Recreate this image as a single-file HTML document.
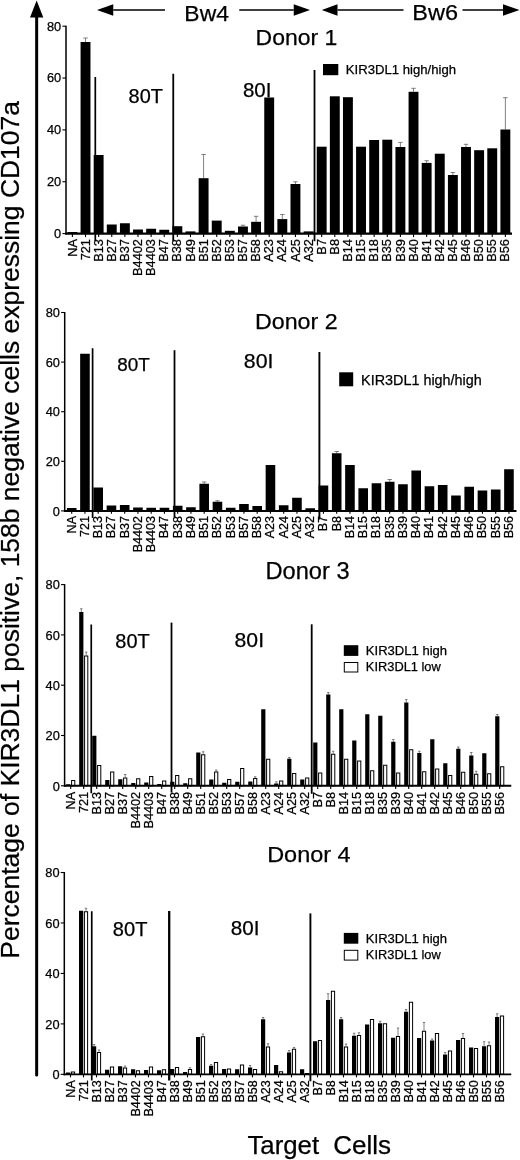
<!DOCTYPE html>
<html lang="en"><head><meta charset="utf-8"><title>KIR3DL1 CD107a expression by donor</title>
<style>html,body{margin:0;padding:0;background:#fff}body{width:520px;height:1160px;overflow:hidden}svg{display:block}text{fill:#000;stroke:#000;stroke-width:0.25px}</style>
</head><body>
<svg width="520" height="1160" viewBox="0 0 520 1160" font-family="'Liberation Sans', Arial, Helvetica, sans-serif">
<rect width="520" height="1160" fill="#fff"/>
<g id="yarrow">
<line x1="36.65" y1="15" x2="36.65" y2="1075" stroke="#000" stroke-width="3" stroke-linecap="round"/>
<polygon points="36.65,0.5 30,17.5 43.3,17.5" fill="#000"/>
</g>
<text transform="translate(19,956.5) rotate(-90)" x="-2.17" y="0" font-size="25.8" textLength="857.65" lengthAdjust="spacingAndGlyphs">Percentage of KIR3DL1 positive, 158b negative cells expressing CD107a</text>
<g id="toparrows">
<line x1="113.25" y1="10" x2="165" y2="10" stroke="#000" stroke-width="1.3"/>
<polygon points="97,10 113.25,4.25 113.25,15.75" fill="#000"/>
<line x1="293.75" y1="10" x2="239.25" y2="10" stroke="#000" stroke-width="1.3"/>
<polygon points="310,10 293.75,4.25 293.75,15.75" fill="#000"/>
<line x1="337.5" y1="10" x2="403.5" y2="10" stroke="#000" stroke-width="1.3"/>
<polygon points="321.75,10 337.5,4.25 337.5,15.75" fill="#000"/>
<line x1="503" y1="10" x2="462.5" y2="10" stroke="#000" stroke-width="1.3"/>
<polygon points="519.5,10 503,4.25 503,15.75" fill="#000"/>
</g>
<text x="184.37" y="20.5" font-size="22.33" textLength="44.55" lengthAdjust="spacingAndGlyphs" >Bw4</text>
<text x="412.32" y="19.8" font-size="22.9" textLength="45.69" lengthAdjust="spacingAndGlyphs" >Bw6</text>
<g id="xtitle">
<text x="247.43" y="1153.5" font-size="25.14" textLength="71.66" lengthAdjust="spacingAndGlyphs" >Target</text>
<text x="333.3" y="1153.5" font-size="25.37" textLength="57.83" lengthAdjust="spacingAndGlyphs" >Cells</text>
</g>
<g id="donor1">
<rect x="67.45" y="232" width="9.9" height="1.6" fill="#000"/>
<path d="M85.52 42V38M83.32 38H87.72" stroke="#555" stroke-width="0.75" fill="none"/>
<rect x="80.57" y="42" width="9.9" height="191.6" fill="#000"/>
<rect x="93.69" y="155" width="9.9" height="78.6" fill="#000"/>
<rect x="106.81" y="224.5" width="9.9" height="9.1" fill="#000"/>
<rect x="119.93" y="223.25" width="9.9" height="10.35" fill="#000"/>
<rect x="133.05" y="229.5" width="9.9" height="4.1" fill="#000"/>
<rect x="146.17" y="228.75" width="9.9" height="4.85" fill="#000"/>
<rect x="159.29" y="229.75" width="9.9" height="3.85" fill="#000"/>
<rect x="172.41" y="226.2" width="9.9" height="7.4" fill="#000"/>
<rect x="185.53" y="231.4" width="9.9" height="2.2" fill="#000"/>
<path d="M203.6 178.2V154.5M201.4 154.5H205.8" stroke="#555" stroke-width="0.75" fill="none"/>
<rect x="198.65" y="178.2" width="9.9" height="55.4" fill="#000"/>
<rect x="211.77" y="220.6" width="9.9" height="13" fill="#000"/>
<rect x="224.89" y="230.8" width="9.9" height="2.8" fill="#000"/>
<path d="M242.96 226.5V225.2M240.76 225.2H245.16" stroke="#555" stroke-width="0.75" fill="none"/>
<rect x="238.01" y="226.5" width="9.9" height="7.1" fill="#000"/>
<path d="M256.08 221.8V216.3M253.88 216.3H258.28" stroke="#555" stroke-width="0.75" fill="none"/>
<rect x="251.13" y="221.8" width="9.9" height="11.8" fill="#000"/>
<rect x="264.25" y="97.5" width="9.9" height="136.1" fill="#000"/>
<path d="M282.32 219.1V214.5M280.12 214.5H284.52" stroke="#555" stroke-width="0.75" fill="none"/>
<rect x="277.37" y="219.1" width="9.9" height="14.5" fill="#000"/>
<path d="M295.44 184V181.8M293.24 181.8H297.64" stroke="#555" stroke-width="0.75" fill="none"/>
<rect x="290.49" y="184" width="9.9" height="49.6" fill="#000"/>
<rect x="303.61" y="231.4" width="9.9" height="2.2" fill="#000"/>
<rect x="316.73" y="146.7" width="9.9" height="86.9" fill="#000"/>
<rect x="329.85" y="96.3" width="9.9" height="137.3" fill="#000"/>
<rect x="342.97" y="97.2" width="9.9" height="136.4" fill="#000"/>
<rect x="356.09" y="146.7" width="9.9" height="86.9" fill="#000"/>
<rect x="369.21" y="140" width="9.9" height="93.6" fill="#000"/>
<rect x="382.33" y="139.7" width="9.9" height="93.9" fill="#000"/>
<path d="M400.4 147V142.4M398.2 142.4H402.6" stroke="#555" stroke-width="0.75" fill="none"/>
<rect x="395.45" y="147" width="9.9" height="86.6" fill="#000"/>
<path d="M413.52 91.8V88.3M411.32 88.3H415.72" stroke="#555" stroke-width="0.75" fill="none"/>
<rect x="408.57" y="91.8" width="9.9" height="141.8" fill="#000"/>
<path d="M426.64 162.9V160.7M424.44 160.7H428.84" stroke="#555" stroke-width="0.75" fill="none"/>
<rect x="421.69" y="162.9" width="9.9" height="70.7" fill="#000"/>
<rect x="434.81" y="153.7" width="9.9" height="79.9" fill="#000"/>
<path d="M452.88 175V172.5M450.68 172.5H455.08" stroke="#555" stroke-width="0.75" fill="none"/>
<rect x="447.93" y="175" width="9.9" height="58.6" fill="#000"/>
<path d="M466 147V144.3M463.8 144.3H468.2" stroke="#555" stroke-width="0.75" fill="none"/>
<rect x="461.05" y="147" width="9.9" height="86.6" fill="#000"/>
<rect x="474.17" y="150.2" width="9.9" height="83.4" fill="#000"/>
<rect x="487.29" y="148.3" width="9.9" height="85.3" fill="#000"/>
<path d="M505.36 129.5V97.7M503.16 97.7H507.56" stroke="#555" stroke-width="0.75" fill="none"/>
<rect x="500.41" y="129.5" width="9.9" height="104.1" fill="#000"/>
<line x1="66" y1="25.7" x2="66" y2="234.6" stroke="#000" stroke-width="1.5"/>
<line x1="65.3" y1="233.6" x2="512" y2="233.6" stroke="#000" stroke-width="2.3"/>
<line x1="62.4" y1="233.6" x2="66" y2="233.6" stroke="#000" stroke-width="1.1"/>
<text x="61.2" y="238" font-size="12.8" text-anchor="end">0</text>
<line x1="62.4" y1="181.75" x2="66" y2="181.75" stroke="#000" stroke-width="1.1"/>
<text x="61.2" y="186.15" font-size="12.8" text-anchor="end">20</text>
<line x1="62.4" y1="129.9" x2="66" y2="129.9" stroke="#000" stroke-width="1.1"/>
<text x="61.2" y="134.3" font-size="12.8" text-anchor="end">40</text>
<line x1="62.4" y1="78.05" x2="66" y2="78.05" stroke="#000" stroke-width="1.1"/>
<text x="61.2" y="82.45" font-size="12.8" text-anchor="end">60</text>
<line x1="62.4" y1="26.2" x2="66" y2="26.2" stroke="#000" stroke-width="1.1"/>
<text x="61.2" y="30.6" font-size="12.8" text-anchor="end">80</text>
<line x1="72.4" y1="233.6" x2="72.4" y2="237.1" stroke="#000" stroke-width="1.1"/>
<text transform="translate(76.5,239) rotate(-90)" font-size="12.8" text-anchor="end">NA</text>
<line x1="85.52" y1="233.6" x2="85.52" y2="237.1" stroke="#000" stroke-width="1.1"/>
<text transform="translate(89.62,239) rotate(-90)" font-size="12.8" text-anchor="end">721</text>
<line x1="98.64" y1="233.6" x2="98.64" y2="237.1" stroke="#000" stroke-width="1.1"/>
<text transform="translate(102.74,239) rotate(-90)" font-size="12.8" text-anchor="end">B13</text>
<line x1="111.76" y1="233.6" x2="111.76" y2="237.1" stroke="#000" stroke-width="1.1"/>
<text transform="translate(115.86,239) rotate(-90)" font-size="12.8" text-anchor="end">B27</text>
<line x1="124.88" y1="233.6" x2="124.88" y2="237.1" stroke="#000" stroke-width="1.1"/>
<text transform="translate(128.98,239) rotate(-90)" font-size="12.8" text-anchor="end">B37</text>
<line x1="138" y1="233.6" x2="138" y2="237.1" stroke="#000" stroke-width="1.1"/>
<text transform="translate(142.1,239) rotate(-90)" font-size="12.8" text-anchor="end">B4402</text>
<line x1="151.12" y1="233.6" x2="151.12" y2="237.1" stroke="#000" stroke-width="1.1"/>
<text transform="translate(155.22,239) rotate(-90)" font-size="12.8" text-anchor="end">B4403</text>
<line x1="164.24" y1="233.6" x2="164.24" y2="237.1" stroke="#000" stroke-width="1.1"/>
<text transform="translate(168.34,239) rotate(-90)" font-size="12.8" text-anchor="end">B47</text>
<line x1="177.36" y1="233.6" x2="177.36" y2="237.1" stroke="#000" stroke-width="1.1"/>
<text transform="translate(181.46,239) rotate(-90)" font-size="12.8" text-anchor="end">B38</text>
<line x1="190.48" y1="233.6" x2="190.48" y2="237.1" stroke="#000" stroke-width="1.1"/>
<text transform="translate(194.58,239) rotate(-90)" font-size="12.8" text-anchor="end">B49</text>
<line x1="203.6" y1="233.6" x2="203.6" y2="237.1" stroke="#000" stroke-width="1.1"/>
<text transform="translate(207.7,239) rotate(-90)" font-size="12.8" text-anchor="end">B51</text>
<line x1="216.72" y1="233.6" x2="216.72" y2="237.1" stroke="#000" stroke-width="1.1"/>
<text transform="translate(220.82,239) rotate(-90)" font-size="12.8" text-anchor="end">B52</text>
<line x1="229.84" y1="233.6" x2="229.84" y2="237.1" stroke="#000" stroke-width="1.1"/>
<text transform="translate(233.94,239) rotate(-90)" font-size="12.8" text-anchor="end">B53</text>
<line x1="242.96" y1="233.6" x2="242.96" y2="237.1" stroke="#000" stroke-width="1.1"/>
<text transform="translate(247.06,239) rotate(-90)" font-size="12.8" text-anchor="end">B57</text>
<line x1="256.08" y1="233.6" x2="256.08" y2="237.1" stroke="#000" stroke-width="1.1"/>
<text transform="translate(260.18,239) rotate(-90)" font-size="12.8" text-anchor="end">B58</text>
<line x1="269.2" y1="233.6" x2="269.2" y2="237.1" stroke="#000" stroke-width="1.1"/>
<text transform="translate(273.3,239) rotate(-90)" font-size="12.8" text-anchor="end">A23</text>
<line x1="282.32" y1="233.6" x2="282.32" y2="237.1" stroke="#000" stroke-width="1.1"/>
<text transform="translate(286.42,239) rotate(-90)" font-size="12.8" text-anchor="end">A24</text>
<line x1="295.44" y1="233.6" x2="295.44" y2="237.1" stroke="#000" stroke-width="1.1"/>
<text transform="translate(299.54,239) rotate(-90)" font-size="12.8" text-anchor="end">A25</text>
<line x1="308.56" y1="233.6" x2="308.56" y2="237.1" stroke="#000" stroke-width="1.1"/>
<text transform="translate(312.66,239) rotate(-90)" font-size="12.8" text-anchor="end">A32</text>
<line x1="321.68" y1="233.6" x2="321.68" y2="237.1" stroke="#000" stroke-width="1.1"/>
<text transform="translate(325.78,239) rotate(-90)" font-size="12.8" text-anchor="end">B7</text>
<line x1="334.8" y1="233.6" x2="334.8" y2="237.1" stroke="#000" stroke-width="1.1"/>
<text transform="translate(338.9,239) rotate(-90)" font-size="12.8" text-anchor="end">B8</text>
<line x1="347.92" y1="233.6" x2="347.92" y2="237.1" stroke="#000" stroke-width="1.1"/>
<text transform="translate(352.02,239) rotate(-90)" font-size="12.8" text-anchor="end">B14</text>
<line x1="361.04" y1="233.6" x2="361.04" y2="237.1" stroke="#000" stroke-width="1.1"/>
<text transform="translate(365.14,239) rotate(-90)" font-size="12.8" text-anchor="end">B15</text>
<line x1="374.16" y1="233.6" x2="374.16" y2="237.1" stroke="#000" stroke-width="1.1"/>
<text transform="translate(378.26,239) rotate(-90)" font-size="12.8" text-anchor="end">B18</text>
<line x1="387.28" y1="233.6" x2="387.28" y2="237.1" stroke="#000" stroke-width="1.1"/>
<text transform="translate(391.38,239) rotate(-90)" font-size="12.8" text-anchor="end">B35</text>
<line x1="400.4" y1="233.6" x2="400.4" y2="237.1" stroke="#000" stroke-width="1.1"/>
<text transform="translate(404.5,239) rotate(-90)" font-size="12.8" text-anchor="end">B39</text>
<line x1="413.52" y1="233.6" x2="413.52" y2="237.1" stroke="#000" stroke-width="1.1"/>
<text transform="translate(417.62,239) rotate(-90)" font-size="12.8" text-anchor="end">B40</text>
<line x1="426.64" y1="233.6" x2="426.64" y2="237.1" stroke="#000" stroke-width="1.1"/>
<text transform="translate(430.74,239) rotate(-90)" font-size="12.8" text-anchor="end">B41</text>
<line x1="439.76" y1="233.6" x2="439.76" y2="237.1" stroke="#000" stroke-width="1.1"/>
<text transform="translate(443.86,239) rotate(-90)" font-size="12.8" text-anchor="end">B42</text>
<line x1="452.88" y1="233.6" x2="452.88" y2="237.1" stroke="#000" stroke-width="1.1"/>
<text transform="translate(456.98,239) rotate(-90)" font-size="12.8" text-anchor="end">B45</text>
<line x1="466" y1="233.6" x2="466" y2="237.1" stroke="#000" stroke-width="1.1"/>
<text transform="translate(470.1,239) rotate(-90)" font-size="12.8" text-anchor="end">B46</text>
<line x1="479.12" y1="233.6" x2="479.12" y2="237.1" stroke="#000" stroke-width="1.1"/>
<text transform="translate(483.22,239) rotate(-90)" font-size="12.8" text-anchor="end">B50</text>
<line x1="492.24" y1="233.6" x2="492.24" y2="237.1" stroke="#000" stroke-width="1.1"/>
<text transform="translate(496.34,239) rotate(-90)" font-size="12.8" text-anchor="end">B55</text>
<line x1="505.36" y1="233.6" x2="505.36" y2="237.1" stroke="#000" stroke-width="1.1"/>
<text transform="translate(509.46,239) rotate(-90)" font-size="12.8" text-anchor="end">B56</text>
<line x1="95.3" y1="77" x2="95.3" y2="241" stroke="#000" stroke-width="1.7"/>
<line x1="173.25" y1="73.75" x2="173.25" y2="241" stroke="#000" stroke-width="1.8"/>
<line x1="314.5" y1="70" x2="314.5" y2="241.2" stroke="#000" stroke-width="1.8"/>
<text x="255.62" y="44.5" font-size="22.4" textLength="81.75" lengthAdjust="spacingAndGlyphs" >Donor 1</text>
<text x="128.64" y="102.5" font-size="19.42" textLength="34.32" lengthAdjust="spacingAndGlyphs" >80T</text>
<text x="242.92" y="97.4" font-size="19.97" textLength="28.47" lengthAdjust="spacingAndGlyphs" >80I</text>
<text x="345.82" y="74" font-size="12.8" textLength="110.22" lengthAdjust="spacingAndGlyphs" >KIR3DL1 high/high</text>
<rect x="323" y="64" width="15.3" height="11.2" fill="#000"/>
</g>
<g id="donor2">
<rect x="66.9" y="508" width="9.6" height="2.9" fill="#000"/>
<rect x="80.15" y="353.75" width="9.6" height="157.15" fill="#000"/>
<rect x="93.4" y="487.5" width="9.6" height="23.4" fill="#000"/>
<rect x="106.65" y="505.5" width="9.6" height="5.4" fill="#000"/>
<rect x="119.9" y="505" width="9.6" height="5.9" fill="#000"/>
<rect x="133.15" y="507.5" width="9.6" height="3.4" fill="#000"/>
<rect x="146.4" y="507.75" width="9.6" height="3.15" fill="#000"/>
<rect x="159.65" y="507.75" width="9.6" height="3.15" fill="#000"/>
<rect x="172.9" y="505.75" width="9.6" height="5.15" fill="#000"/>
<rect x="186.15" y="507.25" width="9.6" height="3.65" fill="#000"/>
<path d="M204.2 483.75V482M202 482H206.4" stroke="#555" stroke-width="0.75" fill="none"/>
<rect x="199.4" y="483.75" width="9.6" height="27.15" fill="#000"/>
<path d="M217.45 501.75V500.75M215.25 500.75H219.65" stroke="#555" stroke-width="0.75" fill="none"/>
<rect x="212.65" y="501.75" width="9.6" height="9.15" fill="#000"/>
<rect x="225.9" y="507.75" width="9.6" height="3.15" fill="#000"/>
<rect x="239.15" y="504" width="9.6" height="6.9" fill="#000"/>
<rect x="252.4" y="506" width="9.6" height="4.9" fill="#000"/>
<rect x="265.65" y="465" width="9.6" height="45.9" fill="#000"/>
<rect x="278.9" y="505.25" width="9.6" height="5.65" fill="#000"/>
<rect x="292.15" y="497.75" width="9.6" height="13.15" fill="#000"/>
<rect x="305.4" y="508.25" width="9.6" height="2.65" fill="#000"/>
<rect x="318.65" y="485.5" width="9.6" height="25.4" fill="#000"/>
<path d="M336.7 453.25V451.5M334.5 451.5H338.9" stroke="#555" stroke-width="0.75" fill="none"/>
<rect x="331.9" y="453.25" width="9.6" height="57.65" fill="#000"/>
<rect x="345.15" y="465" width="9.6" height="45.9" fill="#000"/>
<rect x="358.4" y="488.25" width="9.6" height="22.65" fill="#000"/>
<rect x="371.65" y="483.25" width="9.6" height="27.65" fill="#000"/>
<path d="M389.7 481.75V479.5M387.5 479.5H391.9" stroke="#555" stroke-width="0.75" fill="none"/>
<rect x="384.9" y="481.75" width="9.6" height="29.15" fill="#000"/>
<rect x="398.15" y="484.25" width="9.6" height="26.65" fill="#000"/>
<rect x="411.4" y="470.5" width="9.6" height="40.4" fill="#000"/>
<rect x="424.65" y="486.25" width="9.6" height="24.65" fill="#000"/>
<rect x="437.9" y="485" width="9.6" height="25.9" fill="#000"/>
<rect x="451.15" y="495.5" width="9.6" height="15.4" fill="#000"/>
<rect x="464.4" y="486.75" width="9.6" height="24.15" fill="#000"/>
<rect x="477.65" y="490.5" width="9.6" height="20.4" fill="#000"/>
<rect x="490.9" y="489.5" width="9.6" height="21.4" fill="#000"/>
<rect x="504.15" y="469.25" width="9.6" height="41.65" fill="#000"/>
<line x1="64.7" y1="312" x2="64.7" y2="511.9" stroke="#000" stroke-width="1.5"/>
<line x1="64" y1="510.9" x2="516.5" y2="510.9" stroke="#000" stroke-width="2.0"/>
<line x1="61.1" y1="510.9" x2="64.7" y2="510.9" stroke="#000" stroke-width="1.1"/>
<text x="59.9" y="515.6" font-size="12.8" text-anchor="end">0</text>
<line x1="61.1" y1="461.3" x2="64.7" y2="461.3" stroke="#000" stroke-width="1.1"/>
<text x="59.9" y="466" font-size="12.8" text-anchor="end">20</text>
<line x1="61.1" y1="411.7" x2="64.7" y2="411.7" stroke="#000" stroke-width="1.1"/>
<text x="59.9" y="416.4" font-size="12.8" text-anchor="end">40</text>
<line x1="61.1" y1="362.1" x2="64.7" y2="362.1" stroke="#000" stroke-width="1.1"/>
<text x="59.9" y="366.8" font-size="12.8" text-anchor="end">60</text>
<line x1="61.1" y1="312.5" x2="64.7" y2="312.5" stroke="#000" stroke-width="1.1"/>
<text x="59.9" y="317.2" font-size="12.8" text-anchor="end">80</text>
<line x1="71.7" y1="510.9" x2="71.7" y2="513.7" stroke="#000" stroke-width="1.1"/>
<text transform="translate(75.73,515.9) rotate(-90)" font-size="12.6" text-anchor="end">NA</text>
<line x1="84.95" y1="510.9" x2="84.95" y2="513.7" stroke="#000" stroke-width="1.1"/>
<text transform="translate(88.98,515.9) rotate(-90)" font-size="12.6" text-anchor="end">721</text>
<line x1="98.2" y1="510.9" x2="98.2" y2="513.7" stroke="#000" stroke-width="1.1"/>
<text transform="translate(102.23,515.9) rotate(-90)" font-size="12.6" text-anchor="end">B13</text>
<line x1="111.45" y1="510.9" x2="111.45" y2="513.7" stroke="#000" stroke-width="1.1"/>
<text transform="translate(115.48,515.9) rotate(-90)" font-size="12.6" text-anchor="end">B27</text>
<line x1="124.7" y1="510.9" x2="124.7" y2="513.7" stroke="#000" stroke-width="1.1"/>
<text transform="translate(128.73,515.9) rotate(-90)" font-size="12.6" text-anchor="end">B37</text>
<line x1="137.95" y1="510.9" x2="137.95" y2="513.7" stroke="#000" stroke-width="1.1"/>
<text transform="translate(141.98,515.9) rotate(-90)" font-size="12.6" text-anchor="end">B4402</text>
<line x1="151.2" y1="510.9" x2="151.2" y2="513.7" stroke="#000" stroke-width="1.1"/>
<text transform="translate(155.23,515.9) rotate(-90)" font-size="12.6" text-anchor="end">B4403</text>
<line x1="164.45" y1="510.9" x2="164.45" y2="513.7" stroke="#000" stroke-width="1.1"/>
<text transform="translate(168.48,515.9) rotate(-90)" font-size="12.6" text-anchor="end">B47</text>
<line x1="177.7" y1="510.9" x2="177.7" y2="513.7" stroke="#000" stroke-width="1.1"/>
<text transform="translate(181.73,515.9) rotate(-90)" font-size="12.6" text-anchor="end">B38</text>
<line x1="190.95" y1="510.9" x2="190.95" y2="513.7" stroke="#000" stroke-width="1.1"/>
<text transform="translate(194.98,515.9) rotate(-90)" font-size="12.6" text-anchor="end">B49</text>
<line x1="204.2" y1="510.9" x2="204.2" y2="513.7" stroke="#000" stroke-width="1.1"/>
<text transform="translate(208.23,515.9) rotate(-90)" font-size="12.6" text-anchor="end">B51</text>
<line x1="217.45" y1="510.9" x2="217.45" y2="513.7" stroke="#000" stroke-width="1.1"/>
<text transform="translate(221.48,515.9) rotate(-90)" font-size="12.6" text-anchor="end">B52</text>
<line x1="230.7" y1="510.9" x2="230.7" y2="513.7" stroke="#000" stroke-width="1.1"/>
<text transform="translate(234.73,515.9) rotate(-90)" font-size="12.6" text-anchor="end">B53</text>
<line x1="243.95" y1="510.9" x2="243.95" y2="513.7" stroke="#000" stroke-width="1.1"/>
<text transform="translate(247.98,515.9) rotate(-90)" font-size="12.6" text-anchor="end">B57</text>
<line x1="257.2" y1="510.9" x2="257.2" y2="513.7" stroke="#000" stroke-width="1.1"/>
<text transform="translate(261.23,515.9) rotate(-90)" font-size="12.6" text-anchor="end">B58</text>
<line x1="270.45" y1="510.9" x2="270.45" y2="513.7" stroke="#000" stroke-width="1.1"/>
<text transform="translate(274.48,515.9) rotate(-90)" font-size="12.6" text-anchor="end">A23</text>
<line x1="283.7" y1="510.9" x2="283.7" y2="513.7" stroke="#000" stroke-width="1.1"/>
<text transform="translate(287.73,515.9) rotate(-90)" font-size="12.6" text-anchor="end">A24</text>
<line x1="296.95" y1="510.9" x2="296.95" y2="513.7" stroke="#000" stroke-width="1.1"/>
<text transform="translate(300.98,515.9) rotate(-90)" font-size="12.6" text-anchor="end">A25</text>
<line x1="310.2" y1="510.9" x2="310.2" y2="513.7" stroke="#000" stroke-width="1.1"/>
<text transform="translate(314.23,515.9) rotate(-90)" font-size="12.6" text-anchor="end">A32</text>
<line x1="323.45" y1="510.9" x2="323.45" y2="513.7" stroke="#000" stroke-width="1.1"/>
<text transform="translate(327.48,515.9) rotate(-90)" font-size="12.6" text-anchor="end">B7</text>
<line x1="336.7" y1="510.9" x2="336.7" y2="513.7" stroke="#000" stroke-width="1.1"/>
<text transform="translate(340.73,515.9) rotate(-90)" font-size="12.6" text-anchor="end">B8</text>
<line x1="349.95" y1="510.9" x2="349.95" y2="513.7" stroke="#000" stroke-width="1.1"/>
<text transform="translate(353.98,515.9) rotate(-90)" font-size="12.6" text-anchor="end">B14</text>
<line x1="363.2" y1="510.9" x2="363.2" y2="513.7" stroke="#000" stroke-width="1.1"/>
<text transform="translate(367.23,515.9) rotate(-90)" font-size="12.6" text-anchor="end">B15</text>
<line x1="376.45" y1="510.9" x2="376.45" y2="513.7" stroke="#000" stroke-width="1.1"/>
<text transform="translate(380.48,515.9) rotate(-90)" font-size="12.6" text-anchor="end">B18</text>
<line x1="389.7" y1="510.9" x2="389.7" y2="513.7" stroke="#000" stroke-width="1.1"/>
<text transform="translate(393.73,515.9) rotate(-90)" font-size="12.6" text-anchor="end">B35</text>
<line x1="402.95" y1="510.9" x2="402.95" y2="513.7" stroke="#000" stroke-width="1.1"/>
<text transform="translate(406.98,515.9) rotate(-90)" font-size="12.6" text-anchor="end">B39</text>
<line x1="416.2" y1="510.9" x2="416.2" y2="513.7" stroke="#000" stroke-width="1.1"/>
<text transform="translate(420.23,515.9) rotate(-90)" font-size="12.6" text-anchor="end">B40</text>
<line x1="429.45" y1="510.9" x2="429.45" y2="513.7" stroke="#000" stroke-width="1.1"/>
<text transform="translate(433.48,515.9) rotate(-90)" font-size="12.6" text-anchor="end">B41</text>
<line x1="442.7" y1="510.9" x2="442.7" y2="513.7" stroke="#000" stroke-width="1.1"/>
<text transform="translate(446.73,515.9) rotate(-90)" font-size="12.6" text-anchor="end">B42</text>
<line x1="455.95" y1="510.9" x2="455.95" y2="513.7" stroke="#000" stroke-width="1.1"/>
<text transform="translate(459.98,515.9) rotate(-90)" font-size="12.6" text-anchor="end">B45</text>
<line x1="469.2" y1="510.9" x2="469.2" y2="513.7" stroke="#000" stroke-width="1.1"/>
<text transform="translate(473.23,515.9) rotate(-90)" font-size="12.6" text-anchor="end">B46</text>
<line x1="482.45" y1="510.9" x2="482.45" y2="513.7" stroke="#000" stroke-width="1.1"/>
<text transform="translate(486.48,515.9) rotate(-90)" font-size="12.6" text-anchor="end">B50</text>
<line x1="495.7" y1="510.9" x2="495.7" y2="513.7" stroke="#000" stroke-width="1.1"/>
<text transform="translate(499.73,515.9) rotate(-90)" font-size="12.6" text-anchor="end">B55</text>
<line x1="508.95" y1="510.9" x2="508.95" y2="513.7" stroke="#000" stroke-width="1.1"/>
<text transform="translate(512.98,515.9) rotate(-90)" font-size="12.6" text-anchor="end">B56</text>
<line x1="92.6" y1="348.25" x2="92.6" y2="518" stroke="#000" stroke-width="1.7"/>
<line x1="174.5" y1="350.2" x2="174.5" y2="517.5" stroke="#000" stroke-width="1.8"/>
<line x1="319.4" y1="352" x2="319.4" y2="519.5" stroke="#000" stroke-width="1.9000000000000001"/>
<text x="254.99" y="329.4" font-size="22.66" textLength="82.68" lengthAdjust="spacingAndGlyphs" >Donor 2</text>
<text x="117.19" y="370.75" font-size="18.39" textLength="32.5" lengthAdjust="spacingAndGlyphs" >80T</text>
<text x="243.89" y="367.5" font-size="20.74" textLength="29.58" lengthAdjust="spacingAndGlyphs" >80I</text>
<text x="361.12" y="384.8" font-size="14.01" textLength="120.61" lengthAdjust="spacingAndGlyphs" >KIR3DL1 high/high</text>
<rect x="339.2" y="372.3" width="14" height="14" fill="#000"/>
</g>
<g id="donor3">
<rect x="66.2" y="784.25" width="4.2" height="1.55" fill="#000"/>
<rect x="71.6" y="780.5" width="3.2" height="5.3" fill="#fff" stroke="#000" stroke-width="1"/>
<path d="M81.3 612V608.75M80.1 608.75H82.5" stroke="#555" stroke-width="0.75" fill="none"/>
<path d="M86.2 655.5V652M85 652H87.4" stroke="#555" stroke-width="0.75" fill="none"/>
<rect x="79.2" y="612" width="4.2" height="173.8" fill="#000"/>
<rect x="84.6" y="656" width="3.2" height="129.8" fill="#fff" stroke="#000" stroke-width="1"/>
<rect x="92.2" y="735.75" width="4.2" height="50.05" fill="#000"/>
<rect x="97.6" y="765.5" width="3.2" height="20.3" fill="#fff" stroke="#000" stroke-width="1"/>
<rect x="105.2" y="780" width="4.2" height="5.8" fill="#000"/>
<rect x="110.6" y="772" width="3.2" height="13.8" fill="#fff" stroke="#000" stroke-width="1"/>
<path d="M125.2 777.5V774.5M124 774.5H126.4" stroke="#555" stroke-width="0.75" fill="none"/>
<rect x="118.2" y="779.25" width="4.2" height="6.55" fill="#000"/>
<rect x="123.6" y="778" width="3.2" height="7.8" fill="#fff" stroke="#000" stroke-width="1"/>
<rect x="131.2" y="783" width="4.2" height="2.8" fill="#000"/>
<rect x="136.6" y="778.75" width="3.2" height="7.05" fill="#fff" stroke="#000" stroke-width="1"/>
<rect x="144.2" y="782.5" width="4.2" height="3.3" fill="#000"/>
<rect x="149.6" y="776.5" width="3.2" height="9.3" fill="#fff" stroke="#000" stroke-width="1"/>
<rect x="157.2" y="784" width="4.2" height="1.8" fill="#000"/>
<rect x="162.6" y="781" width="3.2" height="4.8" fill="#fff" stroke="#000" stroke-width="1"/>
<rect x="170.2" y="781.75" width="4.2" height="4.05" fill="#000"/>
<rect x="175.6" y="775.5" width="3.2" height="10.3" fill="#fff" stroke="#000" stroke-width="1"/>
<rect x="183.2" y="783.25" width="4.2" height="2.55" fill="#000"/>
<rect x="188.6" y="778.75" width="3.2" height="7.05" fill="#fff" stroke="#000" stroke-width="1"/>
<path d="M203.2 754.25V751.75M202 751.75H204.4" stroke="#555" stroke-width="0.75" fill="none"/>
<rect x="196.2" y="752.5" width="4.2" height="33.3" fill="#000"/>
<rect x="201.6" y="754.75" width="3.2" height="31.05" fill="#fff" stroke="#000" stroke-width="1"/>
<path d="M216.2 771.5V770M215 770H217.4" stroke="#555" stroke-width="0.75" fill="none"/>
<rect x="209.2" y="779.5" width="4.2" height="6.3" fill="#000"/>
<rect x="214.6" y="772" width="3.2" height="13.8" fill="#fff" stroke="#000" stroke-width="1"/>
<rect x="222.2" y="782.75" width="4.2" height="3.05" fill="#000"/>
<rect x="227.6" y="779.5" width="3.2" height="6.3" fill="#fff" stroke="#000" stroke-width="1"/>
<rect x="235.2" y="781.75" width="4.2" height="4.05" fill="#000"/>
<rect x="240.6" y="768.5" width="3.2" height="17.3" fill="#fff" stroke="#000" stroke-width="1"/>
<path d="M255.2 778V776.75M254 776.75H256.4" stroke="#555" stroke-width="0.75" fill="none"/>
<rect x="248.2" y="781.5" width="4.2" height="4.3" fill="#000"/>
<rect x="253.6" y="778.5" width="3.2" height="7.3" fill="#fff" stroke="#000" stroke-width="1"/>
<rect x="261.2" y="709.25" width="4.2" height="76.55" fill="#000"/>
<rect x="266.6" y="759.25" width="3.2" height="26.55" fill="#fff" stroke="#000" stroke-width="1"/>
<path d="M276.3 783.5V781.75M275.1 781.75H277.5" stroke="#555" stroke-width="0.75" fill="none"/>
<rect x="274.2" y="783.5" width="4.2" height="2.3" fill="#000"/>
<rect x="279.6" y="781" width="3.2" height="4.8" fill="#fff" stroke="#000" stroke-width="1"/>
<path d="M289.3 758.75V757.5M288.1 757.5H290.5" stroke="#555" stroke-width="0.75" fill="none"/>
<rect x="287.2" y="758.75" width="4.2" height="27.05" fill="#000"/>
<rect x="292.6" y="773.5" width="3.2" height="12.3" fill="#fff" stroke="#000" stroke-width="1"/>
<rect x="300.2" y="779.5" width="4.2" height="6.3" fill="#000"/>
<rect x="305.6" y="778" width="3.2" height="7.8" fill="#fff" stroke="#000" stroke-width="1"/>
<rect x="313.2" y="742.5" width="4.2" height="43.3" fill="#000"/>
<rect x="318.6" y="773" width="3.2" height="12.8" fill="#fff" stroke="#000" stroke-width="1"/>
<path d="M328.3 694.5V692.5M327.1 692.5H329.5" stroke="#555" stroke-width="0.75" fill="none"/>
<path d="M333.2 753.75V751.25M332 751.25H334.4" stroke="#555" stroke-width="0.75" fill="none"/>
<rect x="326.2" y="694.5" width="4.2" height="91.3" fill="#000"/>
<rect x="331.6" y="754.25" width="3.2" height="31.55" fill="#fff" stroke="#000" stroke-width="1"/>
<rect x="339.2" y="709.25" width="4.2" height="76.55" fill="#000"/>
<rect x="344.6" y="759.25" width="3.2" height="26.55" fill="#fff" stroke="#000" stroke-width="1"/>
<rect x="352.2" y="740.5" width="4.2" height="45.3" fill="#000"/>
<rect x="357.6" y="761" width="3.2" height="24.8" fill="#fff" stroke="#000" stroke-width="1"/>
<rect x="365.2" y="714.25" width="4.2" height="71.55" fill="#000"/>
<rect x="370.6" y="770.75" width="3.2" height="15.05" fill="#fff" stroke="#000" stroke-width="1"/>
<rect x="378.2" y="715.75" width="4.2" height="70.05" fill="#000"/>
<rect x="383.6" y="765.25" width="3.2" height="20.55" fill="#fff" stroke="#000" stroke-width="1"/>
<path d="M393.3 741.75V739.5M392.1 739.5H394.5" stroke="#555" stroke-width="0.75" fill="none"/>
<rect x="391.2" y="741.75" width="4.2" height="44.05" fill="#000"/>
<rect x="396.6" y="773" width="3.2" height="12.8" fill="#fff" stroke="#000" stroke-width="1"/>
<path d="M406.3 702.5V699.5M405.1 699.5H407.5" stroke="#555" stroke-width="0.75" fill="none"/>
<rect x="404.2" y="702.5" width="4.2" height="83.3" fill="#000"/>
<rect x="409.6" y="749.75" width="3.2" height="36.05" fill="#fff" stroke="#000" stroke-width="1"/>
<path d="M419.3 753V751.25M418.1 751.25H420.5" stroke="#555" stroke-width="0.75" fill="none"/>
<rect x="417.2" y="753" width="4.2" height="32.8" fill="#000"/>
<rect x="422.6" y="771.75" width="3.2" height="14.05" fill="#fff" stroke="#000" stroke-width="1"/>
<rect x="430.2" y="739.25" width="4.2" height="46.55" fill="#000"/>
<rect x="435.6" y="769" width="3.2" height="16.8" fill="#fff" stroke="#000" stroke-width="1"/>
<rect x="443.2" y="763.25" width="4.2" height="22.55" fill="#000"/>
<rect x="448.6" y="775.5" width="3.2" height="10.3" fill="#fff" stroke="#000" stroke-width="1"/>
<path d="M458.3 748.75V747M457.1 747H459.5" stroke="#555" stroke-width="0.75" fill="none"/>
<rect x="456.2" y="748.75" width="4.2" height="37.05" fill="#000"/>
<rect x="461.6" y="772.25" width="3.2" height="13.55" fill="#fff" stroke="#000" stroke-width="1"/>
<path d="M471.3 755.5V752.5M470.1 752.5H472.5" stroke="#555" stroke-width="0.75" fill="none"/>
<path d="M476.2 773.75V771.25M475 771.25H477.4" stroke="#555" stroke-width="0.75" fill="none"/>
<rect x="469.2" y="755.5" width="4.2" height="30.3" fill="#000"/>
<rect x="474.6" y="774.25" width="3.2" height="11.55" fill="#fff" stroke="#000" stroke-width="1"/>
<rect x="482.2" y="753.25" width="4.2" height="32.55" fill="#000"/>
<rect x="487.6" y="773.75" width="3.2" height="12.05" fill="#fff" stroke="#000" stroke-width="1"/>
<path d="M497.3 716.25V714.5M496.1 714.5H498.5" stroke="#555" stroke-width="0.75" fill="none"/>
<rect x="495.2" y="716.25" width="4.2" height="69.55" fill="#000"/>
<rect x="500.6" y="766.75" width="3.2" height="19.05" fill="#fff" stroke="#000" stroke-width="1"/>
<line x1="64.6" y1="584.1" x2="64.6" y2="786.8" stroke="#000" stroke-width="1.5"/>
<line x1="63.9" y1="785.8" x2="511.25" y2="785.8" stroke="#000" stroke-width="1.9"/>
<line x1="61" y1="785.8" x2="64.6" y2="785.8" stroke="#000" stroke-width="1.1"/>
<text x="59.8" y="790.5" font-size="12.8" text-anchor="end">0</text>
<line x1="61" y1="735.5" x2="64.6" y2="735.5" stroke="#000" stroke-width="1.1"/>
<text x="59.8" y="740.2" font-size="12.8" text-anchor="end">20</text>
<line x1="61" y1="685.2" x2="64.6" y2="685.2" stroke="#000" stroke-width="1.1"/>
<text x="59.8" y="689.9" font-size="12.8" text-anchor="end">40</text>
<line x1="61" y1="634.9" x2="64.6" y2="634.9" stroke="#000" stroke-width="1.1"/>
<text x="59.8" y="639.6" font-size="12.8" text-anchor="end">60</text>
<line x1="61" y1="584.6" x2="64.6" y2="584.6" stroke="#000" stroke-width="1.1"/>
<text x="59.8" y="589.3" font-size="12.8" text-anchor="end">80</text>
<line x1="70.7" y1="785.8" x2="70.7" y2="789.1" stroke="#000" stroke-width="1.1"/>
<text transform="translate(74.76,791.85) rotate(-90)" font-size="12.7" text-anchor="end">NA</text>
<line x1="83.7" y1="785.8" x2="83.7" y2="789.1" stroke="#000" stroke-width="1.1"/>
<text transform="translate(87.76,791.85) rotate(-90)" font-size="12.7" text-anchor="end">721</text>
<line x1="96.7" y1="785.8" x2="96.7" y2="789.1" stroke="#000" stroke-width="1.1"/>
<text transform="translate(100.76,791.85) rotate(-90)" font-size="12.7" text-anchor="end">B13</text>
<line x1="109.7" y1="785.8" x2="109.7" y2="789.1" stroke="#000" stroke-width="1.1"/>
<text transform="translate(113.76,791.85) rotate(-90)" font-size="12.7" text-anchor="end">B27</text>
<line x1="122.7" y1="785.8" x2="122.7" y2="789.1" stroke="#000" stroke-width="1.1"/>
<text transform="translate(126.76,791.85) rotate(-90)" font-size="12.7" text-anchor="end">B37</text>
<line x1="135.7" y1="785.8" x2="135.7" y2="789.1" stroke="#000" stroke-width="1.1"/>
<text transform="translate(139.76,791.85) rotate(-90)" font-size="12.7" text-anchor="end">B4402</text>
<line x1="148.7" y1="785.8" x2="148.7" y2="789.1" stroke="#000" stroke-width="1.1"/>
<text transform="translate(152.76,791.85) rotate(-90)" font-size="12.7" text-anchor="end">B4403</text>
<line x1="161.7" y1="785.8" x2="161.7" y2="789.1" stroke="#000" stroke-width="1.1"/>
<text transform="translate(165.76,791.85) rotate(-90)" font-size="12.7" text-anchor="end">B47</text>
<line x1="174.7" y1="785.8" x2="174.7" y2="789.1" stroke="#000" stroke-width="1.1"/>
<text transform="translate(178.76,791.85) rotate(-90)" font-size="12.7" text-anchor="end">B38</text>
<line x1="187.7" y1="785.8" x2="187.7" y2="789.1" stroke="#000" stroke-width="1.1"/>
<text transform="translate(191.76,791.85) rotate(-90)" font-size="12.7" text-anchor="end">B49</text>
<line x1="200.7" y1="785.8" x2="200.7" y2="789.1" stroke="#000" stroke-width="1.1"/>
<text transform="translate(204.76,791.85) rotate(-90)" font-size="12.7" text-anchor="end">B51</text>
<line x1="213.7" y1="785.8" x2="213.7" y2="789.1" stroke="#000" stroke-width="1.1"/>
<text transform="translate(217.76,791.85) rotate(-90)" font-size="12.7" text-anchor="end">B52</text>
<line x1="226.7" y1="785.8" x2="226.7" y2="789.1" stroke="#000" stroke-width="1.1"/>
<text transform="translate(230.76,791.85) rotate(-90)" font-size="12.7" text-anchor="end">B53</text>
<line x1="239.7" y1="785.8" x2="239.7" y2="789.1" stroke="#000" stroke-width="1.1"/>
<text transform="translate(243.76,791.85) rotate(-90)" font-size="12.7" text-anchor="end">B57</text>
<line x1="252.7" y1="785.8" x2="252.7" y2="789.1" stroke="#000" stroke-width="1.1"/>
<text transform="translate(256.76,791.85) rotate(-90)" font-size="12.7" text-anchor="end">B58</text>
<line x1="265.7" y1="785.8" x2="265.7" y2="789.1" stroke="#000" stroke-width="1.1"/>
<text transform="translate(269.76,791.85) rotate(-90)" font-size="12.7" text-anchor="end">A23</text>
<line x1="278.7" y1="785.8" x2="278.7" y2="789.1" stroke="#000" stroke-width="1.1"/>
<text transform="translate(282.76,791.85) rotate(-90)" font-size="12.7" text-anchor="end">A24</text>
<line x1="291.7" y1="785.8" x2="291.7" y2="789.1" stroke="#000" stroke-width="1.1"/>
<text transform="translate(295.76,791.85) rotate(-90)" font-size="12.7" text-anchor="end">A25</text>
<line x1="304.7" y1="785.8" x2="304.7" y2="789.1" stroke="#000" stroke-width="1.1"/>
<text transform="translate(308.76,791.85) rotate(-90)" font-size="12.7" text-anchor="end">A32</text>
<line x1="317.7" y1="785.8" x2="317.7" y2="789.1" stroke="#000" stroke-width="1.1"/>
<text transform="translate(321.76,791.85) rotate(-90)" font-size="12.7" text-anchor="end">B7</text>
<line x1="330.7" y1="785.8" x2="330.7" y2="789.1" stroke="#000" stroke-width="1.1"/>
<text transform="translate(334.76,791.85) rotate(-90)" font-size="12.7" text-anchor="end">B8</text>
<line x1="343.7" y1="785.8" x2="343.7" y2="789.1" stroke="#000" stroke-width="1.1"/>
<text transform="translate(347.76,791.85) rotate(-90)" font-size="12.7" text-anchor="end">B14</text>
<line x1="356.7" y1="785.8" x2="356.7" y2="789.1" stroke="#000" stroke-width="1.1"/>
<text transform="translate(360.76,791.85) rotate(-90)" font-size="12.7" text-anchor="end">B15</text>
<line x1="369.7" y1="785.8" x2="369.7" y2="789.1" stroke="#000" stroke-width="1.1"/>
<text transform="translate(373.76,791.85) rotate(-90)" font-size="12.7" text-anchor="end">B18</text>
<line x1="382.7" y1="785.8" x2="382.7" y2="789.1" stroke="#000" stroke-width="1.1"/>
<text transform="translate(386.76,791.85) rotate(-90)" font-size="12.7" text-anchor="end">B35</text>
<line x1="395.7" y1="785.8" x2="395.7" y2="789.1" stroke="#000" stroke-width="1.1"/>
<text transform="translate(399.76,791.85) rotate(-90)" font-size="12.7" text-anchor="end">B39</text>
<line x1="408.7" y1="785.8" x2="408.7" y2="789.1" stroke="#000" stroke-width="1.1"/>
<text transform="translate(412.76,791.85) rotate(-90)" font-size="12.7" text-anchor="end">B40</text>
<line x1="421.7" y1="785.8" x2="421.7" y2="789.1" stroke="#000" stroke-width="1.1"/>
<text transform="translate(425.76,791.85) rotate(-90)" font-size="12.7" text-anchor="end">B41</text>
<line x1="434.7" y1="785.8" x2="434.7" y2="789.1" stroke="#000" stroke-width="1.1"/>
<text transform="translate(438.76,791.85) rotate(-90)" font-size="12.7" text-anchor="end">B42</text>
<line x1="447.7" y1="785.8" x2="447.7" y2="789.1" stroke="#000" stroke-width="1.1"/>
<text transform="translate(451.76,791.85) rotate(-90)" font-size="12.7" text-anchor="end">B45</text>
<line x1="460.7" y1="785.8" x2="460.7" y2="789.1" stroke="#000" stroke-width="1.1"/>
<text transform="translate(464.76,791.85) rotate(-90)" font-size="12.7" text-anchor="end">B46</text>
<line x1="473.7" y1="785.8" x2="473.7" y2="789.1" stroke="#000" stroke-width="1.1"/>
<text transform="translate(477.76,791.85) rotate(-90)" font-size="12.7" text-anchor="end">B50</text>
<line x1="486.7" y1="785.8" x2="486.7" y2="789.1" stroke="#000" stroke-width="1.1"/>
<text transform="translate(490.76,791.85) rotate(-90)" font-size="12.7" text-anchor="end">B55</text>
<line x1="499.7" y1="785.8" x2="499.7" y2="789.1" stroke="#000" stroke-width="1.1"/>
<text transform="translate(503.76,791.85) rotate(-90)" font-size="12.7" text-anchor="end">B56</text>
<line x1="91.25" y1="624.5" x2="91.25" y2="793.25" stroke="#000" stroke-width="1.7"/>
<line x1="171.5" y1="622.6" x2="171.5" y2="792.5" stroke="#000" stroke-width="1.8"/>
<line x1="311.7" y1="624.3" x2="311.7" y2="793.75" stroke="#000" stroke-width="1.8"/>
<text x="265.56" y="579" font-size="23.01" textLength="83.97" lengthAdjust="spacingAndGlyphs" >Donor 3</text>
<text x="115.39" y="648.25" font-size="19.42" textLength="34.32" lengthAdjust="spacingAndGlyphs" >80T</text>
<text x="234.59" y="646.8" font-size="20.67" textLength="29.46" lengthAdjust="spacingAndGlyphs" >80I</text>
<text x="365.83" y="655" font-size="12.73" textLength="81.31" lengthAdjust="spacingAndGlyphs" >KIR3DL1 high</text>
<text x="365.85" y="671.3" font-size="12.52" textLength="74.91" lengthAdjust="spacingAndGlyphs" >KIR3DL1 low</text>
<rect x="343.8" y="645.2" width="14.5" height="10.7" fill="#000"/>
<rect x="344.3" y="662.5" width="13.5" height="9.5" fill="#fff" stroke="#000" stroke-width="1"/>
</g>
<g id="donor4">
<rect x="66" y="1072.5" width="4.2" height="1.85" fill="#000"/>
<rect x="71.4" y="1072" width="3.2" height="2.35" fill="#fff" stroke="#000" stroke-width="1"/>
<path d="M86 911.25V908.25M84.8 908.25H87.2" stroke="#555" stroke-width="0.75" fill="none"/>
<rect x="79" y="910.75" width="4.2" height="163.6" fill="#000"/>
<rect x="84.4" y="911.75" width="3.2" height="162.6" fill="#fff" stroke="#000" stroke-width="1"/>
<path d="M94.1 1046.25V1044.5M92.9 1044.5H95.3" stroke="#555" stroke-width="0.75" fill="none"/>
<path d="M99 1052V1050M97.8 1050H100.2" stroke="#555" stroke-width="0.75" fill="none"/>
<rect x="92" y="1046.25" width="4.2" height="28.1" fill="#000"/>
<rect x="97.4" y="1052.5" width="3.2" height="21.85" fill="#fff" stroke="#000" stroke-width="1"/>
<rect x="105" y="1069.75" width="4.2" height="4.6" fill="#000"/>
<rect x="110.4" y="1067" width="3.2" height="7.35" fill="#fff" stroke="#000" stroke-width="1"/>
<path d="M125 1067.5V1066M123.8 1066H126.2" stroke="#555" stroke-width="0.75" fill="none"/>
<rect x="118" y="1066.25" width="4.2" height="8.1" fill="#000"/>
<rect x="123.4" y="1068" width="3.2" height="6.35" fill="#fff" stroke="#000" stroke-width="1"/>
<rect x="131" y="1069.25" width="4.2" height="5.1" fill="#000"/>
<rect x="136.4" y="1070.75" width="3.2" height="3.6" fill="#fff" stroke="#000" stroke-width="1"/>
<rect x="144" y="1070" width="4.2" height="4.35" fill="#000"/>
<rect x="149.4" y="1067" width="3.2" height="7.35" fill="#fff" stroke="#000" stroke-width="1"/>
<rect x="157" y="1070.25" width="4.2" height="4.1" fill="#000"/>
<rect x="162.4" y="1069.75" width="3.2" height="4.6" fill="#fff" stroke="#000" stroke-width="1"/>
<rect x="170" y="1069" width="4.2" height="5.35" fill="#000"/>
<rect x="175.4" y="1067.5" width="3.2" height="6.85" fill="#fff" stroke="#000" stroke-width="1"/>
<path d="M190 1069V1067.75M188.8 1067.75H191.2" stroke="#555" stroke-width="0.75" fill="none"/>
<rect x="183" y="1072" width="4.2" height="2.35" fill="#000"/>
<rect x="188.4" y="1069.5" width="3.2" height="4.85" fill="#fff" stroke="#000" stroke-width="1"/>
<path d="M203 1036.25V1034M201.8 1034H204.2" stroke="#555" stroke-width="0.75" fill="none"/>
<rect x="196" y="1037" width="4.2" height="37.35" fill="#000"/>
<rect x="201.4" y="1036.75" width="3.2" height="37.6" fill="#fff" stroke="#000" stroke-width="1"/>
<path d="M211.1 1065.75V1064.5M209.9 1064.5H212.3" stroke="#555" stroke-width="0.75" fill="none"/>
<rect x="209" y="1065.75" width="4.2" height="8.6" fill="#000"/>
<rect x="214.4" y="1062.5" width="3.2" height="11.85" fill="#fff" stroke="#000" stroke-width="1"/>
<rect x="222" y="1069" width="4.2" height="5.35" fill="#000"/>
<rect x="227.4" y="1069" width="3.2" height="5.35" fill="#fff" stroke="#000" stroke-width="1"/>
<rect x="235" y="1069.25" width="4.2" height="5.1" fill="#000"/>
<rect x="240.4" y="1065" width="3.2" height="9.35" fill="#fff" stroke="#000" stroke-width="1"/>
<path d="M250.1 1067.5V1065.5M248.9 1065.5H251.3" stroke="#555" stroke-width="0.75" fill="none"/>
<rect x="248" y="1067.5" width="4.2" height="6.85" fill="#000"/>
<rect x="253.4" y="1069.5" width="3.2" height="4.85" fill="#fff" stroke="#000" stroke-width="1"/>
<path d="M263.1 1019.25V1017.5M261.9 1017.5H264.3" stroke="#555" stroke-width="0.75" fill="none"/>
<path d="M268 1046.5V1043.75M266.8 1043.75H269.2" stroke="#555" stroke-width="0.75" fill="none"/>
<rect x="261" y="1019.25" width="4.2" height="55.1" fill="#000"/>
<rect x="266.4" y="1047" width="3.2" height="27.35" fill="#fff" stroke="#000" stroke-width="1"/>
<rect x="274" y="1065" width="4.2" height="9.35" fill="#000"/>
<rect x="279.4" y="1071.75" width="3.2" height="2.6" fill="#fff" stroke="#000" stroke-width="1"/>
<path d="M289.1 1052.5V1050.5M287.9 1050.5H290.3" stroke="#555" stroke-width="0.75" fill="none"/>
<path d="M294 1048.75V1047.5M292.8 1047.5H295.2" stroke="#555" stroke-width="0.75" fill="none"/>
<rect x="287" y="1052.5" width="4.2" height="21.85" fill="#000"/>
<rect x="292.4" y="1049.25" width="3.2" height="25.1" fill="#fff" stroke="#000" stroke-width="1"/>
<rect x="300" y="1069.25" width="4.2" height="5.1" fill="#000"/>
<rect x="305.4" y="1073.5" width="3.2" height="0.85" fill="#fff" stroke="#000" stroke-width="1"/>
<rect x="313" y="1041.25" width="4.2" height="33.1" fill="#000"/>
<rect x="318.4" y="1040.5" width="3.2" height="33.85" fill="#fff" stroke="#000" stroke-width="1"/>
<path d="M328.1 1000V993.75M326.9 993.75H329.3" stroke="#555" stroke-width="0.75" fill="none"/>
<rect x="326" y="1000" width="4.2" height="74.35" fill="#000"/>
<rect x="331.4" y="991.25" width="3.2" height="83.1" fill="#fff" stroke="#000" stroke-width="1"/>
<path d="M341.1 1019.25V1017.5M339.9 1017.5H342.3" stroke="#555" stroke-width="0.75" fill="none"/>
<path d="M346 1046.5V1044M344.8 1044H347.2" stroke="#555" stroke-width="0.75" fill="none"/>
<rect x="339" y="1019.25" width="4.2" height="55.1" fill="#000"/>
<rect x="344.4" y="1047" width="3.2" height="27.35" fill="#fff" stroke="#000" stroke-width="1"/>
<path d="M354.1 1035.75V1033.25M352.9 1033.25H355.3" stroke="#555" stroke-width="0.75" fill="none"/>
<path d="M359 1035V1032.75M357.8 1032.75H360.2" stroke="#555" stroke-width="0.75" fill="none"/>
<rect x="352" y="1035.75" width="4.2" height="38.6" fill="#000"/>
<rect x="357.4" y="1035.5" width="3.2" height="38.85" fill="#fff" stroke="#000" stroke-width="1"/>
<rect x="365" y="1024.5" width="4.2" height="49.85" fill="#000"/>
<rect x="370.4" y="1019.5" width="3.2" height="54.85" fill="#fff" stroke="#000" stroke-width="1"/>
<path d="M380.1 1023.25V1021.25M378.9 1021.25H381.3" stroke="#555" stroke-width="0.75" fill="none"/>
<rect x="378" y="1023.25" width="4.2" height="51.1" fill="#000"/>
<rect x="383.4" y="1023.75" width="3.2" height="50.6" fill="#fff" stroke="#000" stroke-width="1"/>
<path d="M398 1036V1028M396.8 1028H399.2" stroke="#555" stroke-width="0.75" fill="none"/>
<rect x="391" y="1037.75" width="4.2" height="36.6" fill="#000"/>
<rect x="396.4" y="1036.5" width="3.2" height="37.85" fill="#fff" stroke="#000" stroke-width="1"/>
<path d="M406.1 1011.75V1009.5M404.9 1009.5H407.3" stroke="#555" stroke-width="0.75" fill="none"/>
<rect x="404" y="1011.75" width="4.2" height="62.6" fill="#000"/>
<rect x="409.4" y="1002.25" width="3.2" height="72.1" fill="#fff" stroke="#000" stroke-width="1"/>
<path d="M424 1030.75V1022.5M422.8 1022.5H425.2" stroke="#555" stroke-width="0.75" fill="none"/>
<rect x="417" y="1038" width="4.2" height="36.35" fill="#000"/>
<rect x="422.4" y="1031.25" width="3.2" height="43.1" fill="#fff" stroke="#000" stroke-width="1"/>
<path d="M432.1 1040.5V1039M430.9 1039H433.3" stroke="#555" stroke-width="0.75" fill="none"/>
<rect x="430" y="1040.5" width="4.2" height="33.85" fill="#000"/>
<rect x="435.4" y="1033.5" width="3.2" height="40.85" fill="#fff" stroke="#000" stroke-width="1"/>
<path d="M445.1 1054.5V1052.5M443.9 1052.5H446.3" stroke="#555" stroke-width="0.75" fill="none"/>
<rect x="443" y="1054.5" width="4.2" height="19.85" fill="#000"/>
<rect x="448.4" y="1051" width="3.2" height="23.35" fill="#fff" stroke="#000" stroke-width="1"/>
<path d="M463 1038V1033.5M461.8 1033.5H464.2" stroke="#555" stroke-width="0.75" fill="none"/>
<rect x="456" y="1040" width="4.2" height="34.35" fill="#000"/>
<rect x="461.4" y="1038.5" width="3.2" height="35.85" fill="#fff" stroke="#000" stroke-width="1"/>
<rect x="469" y="1047.5" width="4.2" height="26.85" fill="#000"/>
<rect x="474.4" y="1048.5" width="3.2" height="25.85" fill="#fff" stroke="#000" stroke-width="1"/>
<path d="M484.1 1046.25V1041.75M482.9 1041.75H485.3" stroke="#555" stroke-width="0.75" fill="none"/>
<path d="M489 1045.25V1042M487.8 1042H490.2" stroke="#555" stroke-width="0.75" fill="none"/>
<rect x="482" y="1046.25" width="4.2" height="28.1" fill="#000"/>
<rect x="487.4" y="1045.75" width="3.2" height="28.6" fill="#fff" stroke="#000" stroke-width="1"/>
<path d="M497.1 1017V1013.75M495.9 1013.75H498.3" stroke="#555" stroke-width="0.75" fill="none"/>
<rect x="495" y="1017" width="4.2" height="57.35" fill="#000"/>
<rect x="500.4" y="1016" width="3.2" height="58.35" fill="#fff" stroke="#000" stroke-width="1"/>
<line x1="64.3" y1="872.01" x2="64.3" y2="1075.35" stroke="#000" stroke-width="1.5"/>
<line x1="63.6" y1="1074.35" x2="511.25" y2="1074.35" stroke="#000" stroke-width="1.9"/>
<line x1="60.7" y1="1074.35" x2="64.3" y2="1074.35" stroke="#000" stroke-width="1.1"/>
<text x="59.5" y="1079.05" font-size="12.8" text-anchor="end">0</text>
<line x1="60.7" y1="1023.89" x2="64.3" y2="1023.89" stroke="#000" stroke-width="1.1"/>
<text x="59.5" y="1028.59" font-size="12.8" text-anchor="end">20</text>
<line x1="60.7" y1="973.43" x2="64.3" y2="973.43" stroke="#000" stroke-width="1.1"/>
<text x="59.5" y="978.13" font-size="12.8" text-anchor="end">40</text>
<line x1="60.7" y1="922.97" x2="64.3" y2="922.97" stroke="#000" stroke-width="1.1"/>
<text x="59.5" y="927.67" font-size="12.8" text-anchor="end">60</text>
<line x1="60.7" y1="872.51" x2="64.3" y2="872.51" stroke="#000" stroke-width="1.1"/>
<text x="59.5" y="877.21" font-size="12.8" text-anchor="end">80</text>
<line x1="70.5" y1="1074.35" x2="70.5" y2="1077.35" stroke="#000" stroke-width="1.1"/>
<text transform="translate(74.53,1080.15) rotate(-90)" font-size="12.6" text-anchor="end">NA</text>
<line x1="83.5" y1="1074.35" x2="83.5" y2="1077.35" stroke="#000" stroke-width="1.1"/>
<text transform="translate(87.53,1080.15) rotate(-90)" font-size="12.6" text-anchor="end">721</text>
<line x1="96.5" y1="1074.35" x2="96.5" y2="1077.35" stroke="#000" stroke-width="1.1"/>
<text transform="translate(100.53,1080.15) rotate(-90)" font-size="12.6" text-anchor="end">B13</text>
<line x1="109.5" y1="1074.35" x2="109.5" y2="1077.35" stroke="#000" stroke-width="1.1"/>
<text transform="translate(113.53,1080.15) rotate(-90)" font-size="12.6" text-anchor="end">B27</text>
<line x1="122.5" y1="1074.35" x2="122.5" y2="1077.35" stroke="#000" stroke-width="1.1"/>
<text transform="translate(126.53,1080.15) rotate(-90)" font-size="12.6" text-anchor="end">B37</text>
<line x1="135.5" y1="1074.35" x2="135.5" y2="1077.35" stroke="#000" stroke-width="1.1"/>
<text transform="translate(139.53,1080.15) rotate(-90)" font-size="12.6" text-anchor="end">B4402</text>
<line x1="148.5" y1="1074.35" x2="148.5" y2="1077.35" stroke="#000" stroke-width="1.1"/>
<text transform="translate(152.53,1080.15) rotate(-90)" font-size="12.6" text-anchor="end">B4403</text>
<line x1="161.5" y1="1074.35" x2="161.5" y2="1077.35" stroke="#000" stroke-width="1.1"/>
<text transform="translate(165.53,1080.15) rotate(-90)" font-size="12.6" text-anchor="end">B47</text>
<line x1="174.5" y1="1074.35" x2="174.5" y2="1077.35" stroke="#000" stroke-width="1.1"/>
<text transform="translate(178.53,1080.15) rotate(-90)" font-size="12.6" text-anchor="end">B38</text>
<line x1="187.5" y1="1074.35" x2="187.5" y2="1077.35" stroke="#000" stroke-width="1.1"/>
<text transform="translate(191.53,1080.15) rotate(-90)" font-size="12.6" text-anchor="end">B49</text>
<line x1="200.5" y1="1074.35" x2="200.5" y2="1077.35" stroke="#000" stroke-width="1.1"/>
<text transform="translate(204.53,1080.15) rotate(-90)" font-size="12.6" text-anchor="end">B51</text>
<line x1="213.5" y1="1074.35" x2="213.5" y2="1077.35" stroke="#000" stroke-width="1.1"/>
<text transform="translate(217.53,1080.15) rotate(-90)" font-size="12.6" text-anchor="end">B52</text>
<line x1="226.5" y1="1074.35" x2="226.5" y2="1077.35" stroke="#000" stroke-width="1.1"/>
<text transform="translate(230.53,1080.15) rotate(-90)" font-size="12.6" text-anchor="end">B53</text>
<line x1="239.5" y1="1074.35" x2="239.5" y2="1077.35" stroke="#000" stroke-width="1.1"/>
<text transform="translate(243.53,1080.15) rotate(-90)" font-size="12.6" text-anchor="end">B57</text>
<line x1="252.5" y1="1074.35" x2="252.5" y2="1077.35" stroke="#000" stroke-width="1.1"/>
<text transform="translate(256.53,1080.15) rotate(-90)" font-size="12.6" text-anchor="end">B58</text>
<line x1="265.5" y1="1074.35" x2="265.5" y2="1077.35" stroke="#000" stroke-width="1.1"/>
<text transform="translate(269.53,1080.15) rotate(-90)" font-size="12.6" text-anchor="end">A23</text>
<line x1="278.5" y1="1074.35" x2="278.5" y2="1077.35" stroke="#000" stroke-width="1.1"/>
<text transform="translate(282.53,1080.15) rotate(-90)" font-size="12.6" text-anchor="end">A24</text>
<line x1="291.5" y1="1074.35" x2="291.5" y2="1077.35" stroke="#000" stroke-width="1.1"/>
<text transform="translate(295.53,1080.15) rotate(-90)" font-size="12.6" text-anchor="end">A25</text>
<line x1="304.5" y1="1074.35" x2="304.5" y2="1077.35" stroke="#000" stroke-width="1.1"/>
<text transform="translate(308.53,1080.15) rotate(-90)" font-size="12.6" text-anchor="end">A32</text>
<line x1="317.5" y1="1074.35" x2="317.5" y2="1077.35" stroke="#000" stroke-width="1.1"/>
<text transform="translate(321.53,1080.15) rotate(-90)" font-size="12.6" text-anchor="end">B7</text>
<line x1="330.5" y1="1074.35" x2="330.5" y2="1077.35" stroke="#000" stroke-width="1.1"/>
<text transform="translate(334.53,1080.15) rotate(-90)" font-size="12.6" text-anchor="end">B8</text>
<line x1="343.5" y1="1074.35" x2="343.5" y2="1077.35" stroke="#000" stroke-width="1.1"/>
<text transform="translate(347.53,1080.15) rotate(-90)" font-size="12.6" text-anchor="end">B14</text>
<line x1="356.5" y1="1074.35" x2="356.5" y2="1077.35" stroke="#000" stroke-width="1.1"/>
<text transform="translate(360.53,1080.15) rotate(-90)" font-size="12.6" text-anchor="end">B15</text>
<line x1="369.5" y1="1074.35" x2="369.5" y2="1077.35" stroke="#000" stroke-width="1.1"/>
<text transform="translate(373.53,1080.15) rotate(-90)" font-size="12.6" text-anchor="end">B18</text>
<line x1="382.5" y1="1074.35" x2="382.5" y2="1077.35" stroke="#000" stroke-width="1.1"/>
<text transform="translate(386.53,1080.15) rotate(-90)" font-size="12.6" text-anchor="end">B35</text>
<line x1="395.5" y1="1074.35" x2="395.5" y2="1077.35" stroke="#000" stroke-width="1.1"/>
<text transform="translate(399.53,1080.15) rotate(-90)" font-size="12.6" text-anchor="end">B39</text>
<line x1="408.5" y1="1074.35" x2="408.5" y2="1077.35" stroke="#000" stroke-width="1.1"/>
<text transform="translate(412.53,1080.15) rotate(-90)" font-size="12.6" text-anchor="end">B40</text>
<line x1="421.5" y1="1074.35" x2="421.5" y2="1077.35" stroke="#000" stroke-width="1.1"/>
<text transform="translate(425.53,1080.15) rotate(-90)" font-size="12.6" text-anchor="end">B41</text>
<line x1="434.5" y1="1074.35" x2="434.5" y2="1077.35" stroke="#000" stroke-width="1.1"/>
<text transform="translate(438.53,1080.15) rotate(-90)" font-size="12.6" text-anchor="end">B42</text>
<line x1="447.5" y1="1074.35" x2="447.5" y2="1077.35" stroke="#000" stroke-width="1.1"/>
<text transform="translate(451.53,1080.15) rotate(-90)" font-size="12.6" text-anchor="end">B45</text>
<line x1="460.5" y1="1074.35" x2="460.5" y2="1077.35" stroke="#000" stroke-width="1.1"/>
<text transform="translate(464.53,1080.15) rotate(-90)" font-size="12.6" text-anchor="end">B46</text>
<line x1="473.5" y1="1074.35" x2="473.5" y2="1077.35" stroke="#000" stroke-width="1.1"/>
<text transform="translate(477.53,1080.15) rotate(-90)" font-size="12.6" text-anchor="end">B50</text>
<line x1="486.5" y1="1074.35" x2="486.5" y2="1077.35" stroke="#000" stroke-width="1.1"/>
<text transform="translate(490.53,1080.15) rotate(-90)" font-size="12.6" text-anchor="end">B55</text>
<line x1="499.5" y1="1074.35" x2="499.5" y2="1077.35" stroke="#000" stroke-width="1.1"/>
<text transform="translate(503.53,1080.15) rotate(-90)" font-size="12.6" text-anchor="end">B56</text>
<line x1="91.75" y1="911.25" x2="91.75" y2="1080.5" stroke="#000" stroke-width="1.7"/>
<line x1="169.2" y1="911" x2="169.2" y2="1080.5" stroke="#000" stroke-width="2.3"/>
<line x1="310.4" y1="913.4" x2="310.4" y2="1081.25" stroke="#000" stroke-width="1.9000000000000001"/>
<text x="267.17" y="861.8" font-size="22.89" textLength="83.52" lengthAdjust="spacingAndGlyphs" >Donor 4</text>
<text x="112.89" y="935.75" font-size="19.56" textLength="34.58" lengthAdjust="spacingAndGlyphs" >80T</text>
<text x="230.81" y="935.2" font-size="20.12" textLength="28.69" lengthAdjust="spacingAndGlyphs" >80I</text>
<text x="365.83" y="943" font-size="12.73" textLength="81.31" lengthAdjust="spacingAndGlyphs" >KIR3DL1 high</text>
<text x="365.85" y="959.4" font-size="12.52" textLength="74.91" lengthAdjust="spacingAndGlyphs" >KIR3DL1 low</text>
<rect x="343.8" y="932.9" width="14.5" height="10.8" fill="#000"/>
<rect x="344.3" y="950.3" width="13.5" height="9.8" fill="#fff" stroke="#000" stroke-width="1"/>
</g>
</svg></body></html>
